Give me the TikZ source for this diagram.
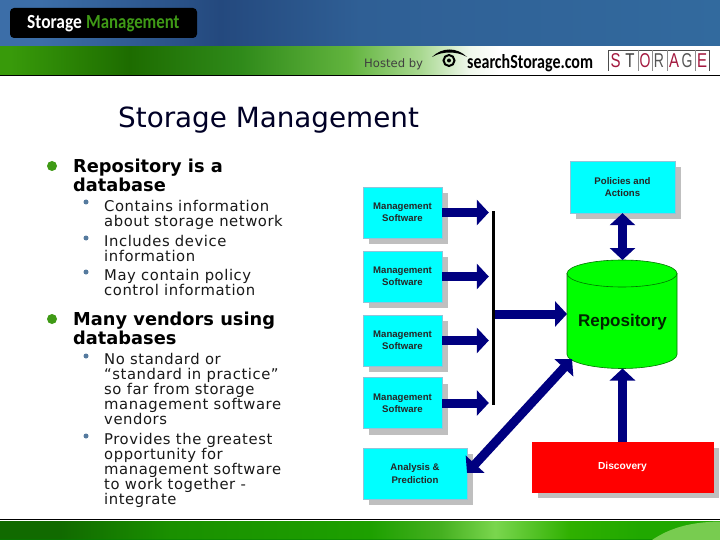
\documentclass[tikz,border=0pt]{standalone}
\usepackage{fontspec}
\usepackage{graphicx}
\setmainfont{DejaVu Sans}
\newfontfamily\spacedfont[LetterSpace=3.8]{DejaVu Sans}
\newfontfamily\logofont{Carlito}
\newfontfamily\armfont{Liberation Sans}
\usetikzlibrary{arrows.meta,shadows}
\definecolor{navyflow}{HTML}{000080}
\definecolor{cyanbox}{HTML}{00FFFF}
\definecolor{repogreen}{HTML}{00FF00}
\definecolor{bulgreen}{HTML}{3F9A16}
\definecolor{subbul}{HTML}{557A9E}
\definecolor{crim}{HTML}{A3183E}
\definecolor{greyl}{HTML}{555555}
\definecolor{cornerglow}{HTML}{78CC50}
\definecolor{blA}{HTML}{3C6EA8}\definecolor{blB}{HTML}{24497E}\definecolor{blC}{HTML}{2F5F95}\definecolor{blD}{HTML}{326A9E}
\definecolor{grA}{HTML}{389A0A}\definecolor{grB}{HTML}{1D6C00}\definecolor{grC}{HTML}{2F8A1A}\definecolor{grD}{HTML}{62B43E}\definecolor{grE}{HTML}{A8D890}\definecolor{grF}{HTML}{F0F8EC}
\definecolor{foA}{HTML}{116A00}\definecolor{foB}{HTML}{1A9000}\definecolor{foC}{HTML}{1DA000}\definecolor{foD}{HTML}{45B020}\definecolor{foE}{HTML}{7AD64E}\definecolor{foF}{HTML}{2FB000}\definecolor{foG}{HTML}{20A800}
\pgfdeclarehorizontalshading{bluetop}{100bp}{color(0bp)=(blA);color(27.8bp)=(blA);color(40.3bp)=(blB);color(50bp)=(blC);color(75bp)=(blD);color(100bp)=(blD)}
\pgfdeclarehorizontalshading{greentop}{100bp}{color(0bp)=(grA);color(25.7bp)=(grA);color(34bp)=(grB);color(41.7bp)=(grC);color(49.3bp)=(grD);color(54.2bp)=(grE);color(57.6bp)=(grF);color(59.7bp)=(white);color(100bp)=(white)}
\pgfdeclarehorizontalshading{greenbot}{100bp}{color(0bp)=(foA);color(29.2bp)=(foA);color(36.8bp)=(foB);color(50.7bp)=(foC);color(55.6bp)=(foD);color(59.4bp)=(foE);color(64.6bp)=(foF);color(69.4bp)=(foG);color(100bp)=(foG)}
\begin{document}
\begin{tikzpicture}[x=1pt,y=-1pt,
  softbox/.style={fill=cyanbox,draw=cyan!70!black!50,line width=.4pt,inner sep=0pt,align=center,
    drop shadow={shadow xshift=6pt,shadow yshift=-6pt,fill=black!25,opacity=1},
    font=\armfont\bfseries\fontsize{9.6}{12.4}\selectfont,text=black!85},
  mgmt/.style={softbox,minimum width=79pt,minimum height=51pt},
  flow/.style={line width=9pt,navyflow,-{Triangle[length=12pt,width=25pt]}},
  flowboth/.style={line width=9pt,navyflow,{Triangle[length=12pt,width=25pt]}-{Triangle[length=12pt,width=25pt]}},
  lead/.style={anchor=north west,inner sep=0pt,align=left,font=\bfseries\fontsize{17.8}{19}\selectfont},
  sub/.style={anchor=north west,inner sep=0pt,align=left,font=\spacedfont\fontsize{14.8}{15.1}\selectfont,text=black!90},
  bigdot/.style={circle,fill=bulgreen,inner sep=0pt,minimum size=10pt},
  smalldot/.style={circle,fill=subbul,inner sep=0pt,minimum size=5pt},
  letter/.style={anchor=base,inner sep=0pt,font=\armfont\fontsize{20}{20}\selectfont},
  rulerline/.style={line width=.7pt,black!70},
  logotext/.style={anchor=base west,inner sep=0pt,font=\logofont\bfseries\fontsize{20}{20}\selectfont},
]
\newcommand{\leadstrut}{\rule{0pt}{13pt}}
\newcommand{\substrut}{\rule{0pt}{11pt}}
\newcommand{\narrowed}[2]{\scalebox{#1}[1]{#2}}
\useasboundingbox (0,0) rectangle (720,540);
\fill[white] (0,0) rectangle (720,540);
% header
\shade[shading=bluetop] (0,0) rectangle (720,46.5);
\shade[shading=greentop] (0,47) rectangle (720,75);
\fill[black] (0,75) rectangle (720,76.5);
\fill[black,rounded corners=4pt] (10,8) rectangle (197,38);
\node[logotext,text=white] (logoa) at (27,29) {\narrowed{.87}{Storage}};
\node[logotext,text=bulgreen] (logob) at (86,29) {\narrowed{.84}{Management}};
\node[anchor=base west,inner sep=0pt,text=black!75,font=\fontsize{11.6}{12}\selectfont] (hosted) at (364,67.5) {Hosted by};
% eye logo
\draw[line width=2pt] (449,60.5) circle (5.5pt);
\fill (449,60.5) circle (2pt);
\fill (432,57) .. controls (442,47) and (457,47) .. (467,57) .. controls (457,51) and (442,51) .. (432,57);
\node[logotext,text=black] (search) at (467,69) {\narrowed{.8}{searchStorage.com}};
% STORAGE logo
\draw[rulerline] (608,71) -- (608,50) -- (709,50) -- (709,71);
\foreach \xx in {638,652,667,695} \draw[rulerline,black!45] (\xx,50) -- (\xx,71);
\node[letter,text=crim] (ls) at (615.5,68) {\narrowed{.75}{S}};
\node[letter,text=black!75] (lt) at (630,68) {\narrowed{.75}{T}};
\node[letter,text=crim] (lo) at (645,68) {\narrowed{.7}{O}};
\node[letter,text=greyl] (lr) at (659,68) {\narrowed{.7}{R}};
\node[letter,text=crim] (la) at (674,68) {\narrowed{.75}{A}};
\node[letter,text=greyl] (lg) at (687,68) {\narrowed{.7}{G}};
\node[letter,text=crim] (le) at (702,68) {\narrowed{.75}{E}};
% title
\node[anchor=base west,inner sep=0pt,text=black!85!blue,font=\fontsize{27.8}{30}\selectfont] (title) at (118,128) {Storage Management};
% text
\node[bigdot] (d1) at (52,166) {};
\node[lead] (t1) at (73,159) {\leadstrut Repository is a\\database};
\node[smalldot] (s1) at (86,202) {};
\node[sub] (t2) at (104,200) {\substrut Contains information\\about storage network};
\node[smalldot] (s2) at (86,238) {};
\node[sub] (t3) at (104,235) {\substrut Includes device\\information};
\node[smalldot] (s3) at (86,272) {};
\node[sub] (t4) at (104,269) {\substrut May contain policy\\control information};
\node[bigdot] (d2) at (52,319) {};
\node[lead] (t5) at (73,312) {\leadstrut Many vendors using\\databases};
\node[smalldot] (s4) at (86,356) {};
\node[sub] (t6) at (104,353) {\substrut No standard or\\“standard in practice”\\so far from storage\\management software\\vendors};
\node[smalldot] (s5) at (86,436) {};
\node[sub] (t7) at (104,433) {\substrut Provides the greatest\\opportunity for\\management software\\to work together -\\integrate};
% diagram
\node[mgmt] (m1) at (402.5,212.5) {Management\\Software};
\node[mgmt] (m2) at (402.5,276.5) {Management\\Software};
\node[mgmt] (m3) at (402.5,340.5) {Management\\Software};
\node[mgmt] (m4) at (402.5,403) {Management\\Software};
\node[softbox,minimum width=104pt,minimum height=51pt] (ap) at (415,473.5) {Analysis \&\\Prediction};
\node[softbox,minimum width=105pt,minimum height=52pt] (pol) at (622.5,187) {Policies and\\Actions};
\node[softbox,fill=red,draw=red,minimum width=181pt,minimum height=50pt,text=white,font=\armfont\bfseries\fontsize{10.2}{12}\selectfont] (disc) at (622.5,467) {Discovery};
\node[fill=black,inner sep=0pt,minimum width=3pt,minimum height=194pt] (bar) at (493,308) {};
% repository cylinder
\filldraw[fill=repogreen,draw=green!45!black,line width=.6pt] (567,273.5) -- (567,354.5) .. controls (567,362) and (592,368.5) .. (622,368.5) .. controls (652,368.5) and (677,362) .. (677,354.5) -- (677,273.5) -- cycle;
\filldraw[fill=repogreen,draw=green!45!black,line width=.6pt] (622,273.5) ellipse[x radius=55,y radius=13.5];
\node[inner sep=0pt,minimum width=110pt,minimum height=108pt] (repo) at (622,314) {};
\node[inner sep=0pt,text=black!85!green,font=\armfont\bfseries\fontsize{17}{18}\selectfont] (repolabel) at (622.5,322.5) {Repository};
\coordinate (diaga) at (467,473);
\coordinate (diagb) at (572,359);
\coordinate (repotop) at (622.5,260);
\coordinate (repobot) at (622.5,368.5);
\coordinate (repoleft) at (567,314);
% connectors
\foreach \m in {m1,m2,m3,m4} \draw[flow,shorten >=2.5pt] (\m.east) -- (\m.east -| bar.west);
\draw[flow] (bar.east |- repoleft) -- (repoleft);
\draw[flowboth] (pol.south) -- (repotop);
\draw[flow] (disc.north -| repobot) -- (repobot);
\draw[flowboth] (diaga) -- (diagb);
% footer
\fill[black] (0,518.5) rectangle (720,520);
\shade[shading=greenbot] (0,521) rectangle (720,540);
\fill[green!50!black,opacity=.5] (0,539) rectangle (720,540);
\fill[cornerglow] (652,540) .. controls (670,528) and (690,522) .. (720,521.5) -- (720,540) -- cycle;
\end{tikzpicture}
\end{document}
